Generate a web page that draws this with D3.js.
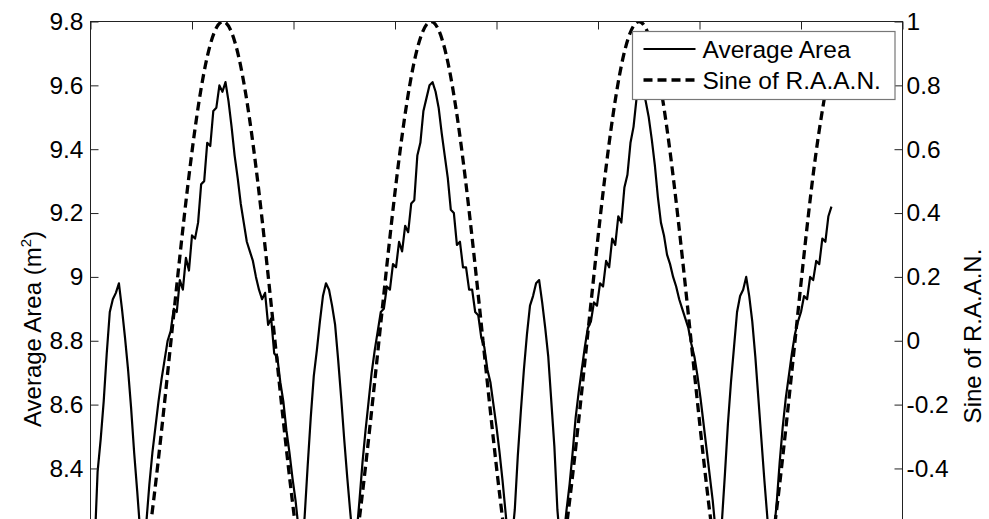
<!DOCTYPE html>
<html>
<head>
<meta charset="utf-8">
<script src="https://cdn.jsdelivr.net/npm/d3@7"></script>
<style>
  html, body { margin: 0; padding: 0; background: #fff; overflow: hidden; }
  text { font-family: "Liberation Sans", Arial, Helvetica, sans-serif; }
</style>
</head>
<body>
<svg id="chart" width="989" height="519"></svg>
<script>
// ---- data ---------------------------------------------------------------
// top-edge time ticks (their labels belong to the bottom edge, outside the view)
const timeTicks = [0, 1, 2, 3, 4, 5, 6, 7, 8];

// left axis: average area in m^2
const areaTicks = [8.4, 8.6, 8.8, 9, 9.2, 9.4, 9.6, 9.8];
const areaTickLabels = ["8.4", "8.6", "8.8", "9", "9.2", "9.4", "9.6", "9.8"];

// right axis: sine of the right ascension of the ascending node
const sineTicks = [-0.4, -0.2, 0, 0.2, 0.4, 0.6, 0.8, 1];
const sineTickLabels = ["-0.4", "-0.2", "0", "0.2", "0.4", "0.6", "0.8", "1"];

// average area, sampled every areaStep time units from areaStart
const areaStart = 0.04;
const areaStep = 0.03;
const areaValues = [
  8.15, 8.39, 8.49, 8.61, 8.76, 8.89, 8.93, 8.95, 8.98, 8.90,
  8.81, 8.71, 8.59, 8.45, 8.33, 8.20, 8.15, 8.23, 8.35, 8.45,
  8.53, 8.61, 8.68, 8.74, 8.80, 8.83, 8.90, 8.89, 8.99, 8.96,
  9.06, 9.02, 9.13, 9.12, 9.17, 9.29, 9.30, 9.42, 9.41, 9.52,
  9.53, 9.60, 9.58, 9.61, 9.55, 9.47, 9.38, 9.31, 9.23, 9.17,
  9.11, 9.08, 9.05, 9.00, 8.96, 8.93, 8.95, 8.85, 8.87, 8.76,
  8.75, 8.67, 8.61, 8.52, 8.45, 8.37, 8.30, 8.21, 8.13, 8.25,
  8.41, 8.56, 8.69, 8.77, 8.86, 8.94, 8.98, 8.96, 8.91, 8.85,
  8.74, 8.62, 8.49, 8.37, 8.26, 8.16, 8.19, 8.30, 8.42, 8.52,
  8.61, 8.70, 8.77, 8.83, 8.89, 8.90, 8.97, 8.96, 9.04, 9.03,
  9.11, 9.08, 9.16, 9.14, 9.23, 9.24, 9.38, 9.42, 9.52, 9.56,
  9.60, 9.61, 9.58, 9.53, 9.45, 9.38, 9.31, 9.21, 9.20, 9.10,
  9.11, 9.03, 9.03, 8.96, 8.96, 8.89, 8.88, 8.81, 8.78, 8.71,
  8.67, 8.60, 8.53, 8.45, 8.36, 8.26, 8.16, 8.17, 8.27, 8.44,
  8.58, 8.71, 8.82, 8.91, 8.94, 8.98, 8.99, 8.92, 8.84, 8.75,
  8.61, 8.47, 8.27, 8.16, 8.18, 8.27, 8.35, 8.45, 8.56, 8.64,
  8.71, 8.78, 8.84, 8.86, 8.92, 8.91, 8.98, 8.97, 9.05, 9.03,
  9.12, 9.10, 9.19, 9.17, 9.28, 9.32, 9.42, 9.47, 9.56, 9.60,
  9.59, 9.55, 9.50, 9.43, 9.35, 9.25, 9.17, 9.13, 9.07, 9.04,
  9.00, 8.97, 8.93, 8.90, 8.87, 8.84, 8.79, 8.75, 8.69, 8.62,
  8.54, 8.46, 8.38, 8.30, 8.20, 8.13, 8.23, 8.38, 8.54, 8.67,
  8.78, 8.89, 8.94, 8.96, 9.00, 8.94, 8.86, 8.75, 8.62, 8.49,
  8.36, 8.24, 8.15, 8.19, 8.29, 8.42, 8.53, 8.62, 8.69, 8.76,
  8.82, 8.86, 8.89, 8.94, 8.93, 9.00, 8.99, 9.05, 9.04, 9.12,
  9.11, 9.19, 9.22
];

// sine of R.A.A.N., read at every 30 degrees of node angle
const sineTime = [
  0.044, 0.109, 0.280, 0.451, 0.622, 0.793, 0.964, 1.134, 1.305, 1.476,
  1.647, 1.817, 1.988, 2.159, 2.330, 2.501, 2.671, 2.842, 3.013, 3.184,
  3.355, 3.525, 3.696, 3.867, 4.038, 4.209, 4.379, 4.550, 4.721, 4.892,
  5.063, 5.233, 5.404, 5.575, 5.746, 5.917, 6.087, 6.258, 6.429, 6.600,
  6.771, 6.941, 7.112, 7.246
];
const sineValues = [
  -0.748, -0.866, -1, -0.866, -0.5, 0, 0.5, 0.866, 1, 0.866,
  0.5, 0, -0.5, -0.866, -1, -0.866, -0.5, 0, 0.5, 0.866,
  1, 0.866, 0.5, 0, -0.5, -0.866, -1, -0.866, -0.5, 0,
  0.5, 0.866, 1, 0.866, 0.5, 0, -0.5, -0.866, -1, -0.866,
  -0.5, 0, 0.5, 0.79
];

const seriesNames = ["Average Area", "Sine of R.A.A.N."];

// ---- layout -------------------------------------------------------------
const plot = { left: 90.5, right: 902.5, top: 21.5, bottom: 660 };
const fontSize = 24.5;

const svg = d3.select("#chart");

const x = d3.scaleLinear().domain([0, 8]).range([plot.left, plot.right]);
const yArea = d3.scaleLinear().domain([7.8, 9.8]).range([plot.bottom, plot.top]);
const ySine = d3.scaleLinear().domain([-1, 1]).range([plot.bottom, plot.top]);

svg.append("defs").append("clipPath").attr("id", "plotClip")
  .append("rect")
  .attr("x", plot.left).attr("y", plot.top)
  .attr("width", plot.right - plot.left).attr("height", plot.bottom - plot.top);

// ---- series -------------------------------------------------------------
const areaPoints = areaValues.map((v, i) => [areaStart + i * areaStep, v]);
const sinePoints = sineValues.map((v, i) => [sineTime[i], v]);

const lines = svg.append("g").attr("clip-path", "url(#plotClip)");

lines.append("path")
  .datum(areaPoints)
  .attr("fill", "none")
  .attr("stroke", "#000")
  .attr("stroke-width", 2.2)
  .attr("stroke-linejoin", "round")
  .attr("d", d3.line().x(d => x(d[0])).y(d => yArea(d[1])));

lines.append("path")
  .datum(sinePoints)
  .attr("fill", "none")
  .attr("stroke", "#000")
  .attr("stroke-width", 3.3)
  .attr("stroke-dasharray", "9,5")
  .attr("d", d3.line().curve(d3.curveNatural).x(d => x(d[0])).y(d => ySine(d[1])));

// ---- axes ---------------------------------------------------------------
const axisColor = "#222";

svg.append("rect")
  .attr("x", plot.left).attr("y", plot.top)
  .attr("width", plot.right - plot.left).attr("height", plot.bottom - plot.top)
  .attr("fill", "none").attr("stroke", axisColor).attr("stroke-width", 1);

function styleAxis(g) {
  g.select(".domain").remove();
  g.selectAll(".tick line").attr("stroke", axisColor);
  g.selectAll(".tick text")
    .attr("fill", "#000")
    .attr("font-size", fontSize)
    .attr("font-family", '"Liberation Sans", Arial, Helvetica, sans-serif');
}

svg.append("g")
  .attr("transform", `translate(0,${plot.top})`)
  .call(d3.axisTop(x).tickValues(timeTicks).tickFormat("").tickSizeInner(-8).tickSizeOuter(0))
  .call(styleAxis);

svg.append("g")
  .attr("transform", `translate(${plot.left},0)`)
  .call(d3.axisLeft(yArea).tickValues(areaTicks)
    .tickFormat((d, i) => areaTickLabels[i]).tickSizeInner(-8).tickSizeOuter(0).tickPadding(7))
  .call(styleAxis);

svg.append("g")
  .attr("transform", `translate(${plot.right},0)`)
  .call(d3.axisRight(ySine).tickValues(sineTicks)
    .tickFormat((d, i) => sineTickLabels[i]).tickSizeInner(-8).tickSizeOuter(0).tickPadding(4))
  .call(styleAxis);

// axis titles
const leftTitle = svg.append("text")
  .attr("transform", "translate(41,329) rotate(-90)")
  .attr("text-anchor", "middle")
  .attr("font-size", 24)
  .attr("fill", "#000");
leftTitle.append("tspan").text("Average Area (m");
leftTitle.append("tspan").attr("font-size", 15).attr("dy", -10).text("2");
leftTitle.append("tspan").attr("dy", 10).text(")");

svg.append("text")
  .attr("transform", "translate(981,336) rotate(-90)")
  .attr("text-anchor", "middle")
  .attr("font-size", 24)
  .attr("fill", "#000")
  .text("Sine of R.A.A.N.");

// ---- legend -------------------------------------------------------------
const legend = svg.append("g").attr("transform", "translate(632.5,31.5)");
legend.append("rect")
  .attr("width", 262.5).attr("height", 68)
  .attr("fill", "#fff").attr("stroke", "#777").attr("stroke-width", 1.2);

const legendRows = [
  { name: seriesNames[0], width: 1.8, dash: null, y: 17.5 },
  { name: seriesNames[1], width: 3.3, dash: "9,5", y: 48.5 }
];
legendRows.forEach(r => {
  legend.append("line")
    .attr("x1", 11).attr("x2", 63).attr("y1", r.y).attr("y2", r.y)
    .attr("stroke", "#000").attr("stroke-width", r.width)
    .attr("stroke-dasharray", r.dash);
  legend.append("text")
    .attr("x", 70).attr("y", r.y + 8.5)
    .attr("font-size", fontSize).attr("fill", "#000")
    .text(r.name);
});
</script>
</body>
</html>
